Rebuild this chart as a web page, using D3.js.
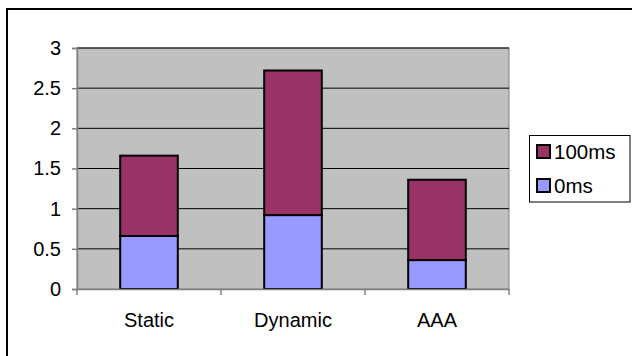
<!DOCTYPE html>
<html><head><meta charset="utf-8">
<script src="https://cdn.jsdelivr.net/npm/d3@7"></script>
<style>body{margin:0;background:#fff}svg{display:block}text{font-family:Arial,"Liberation Sans",sans-serif;fill:#000}</style>
</head><body>
<script>
const categories = ["Static", "Dynamic", "AAA"];
const series = ["0ms", "100ms"];
const values0ms = [0.66, 0.92, 0.36];
const values100ms = [1.00, 1.80, 1.00];
const yTicks = [0, 0.5, 1, 1.5, 2, 2.5, 3];
const colors = {"0ms": "#9999ff", "100ms": "#993366"};

const W = 632, H = 356;
const svg = d3.select("body").append("svg").attr("width", W).attr("height", H);
svg.append("rect").attr("x", 7).attr("y", 9).attr("width", 640).attr("height", 360)
  .attr("fill", "#fff").attr("stroke", "#000").attr("stroke-width", 2);

const L = 77, R = 509, T = 48, B = 289;
const x = d3.scaleBand().domain(categories).range([L, R]).paddingInner(0.6).paddingOuter(0.3);
const xc = d3.scaleBand().domain(categories).range([L, R]);
const y = d3.scaleLinear().domain([0, 3]).range([B, T]);

svg.append("rect").attr("x", L).attr("y", T).attr("width", R - L).attr("height", B - T)
  .attr("fill", "#c0c0c0").attr("stroke", "#808080").attr("stroke-width", 1);

// gridlines
svg.append("g").selectAll("line").data(yTicks.filter(d => d > 0)).join("line")
  .attr("x1", L).attr("x2", R).attr("y1", d => y(d)).attr("y2", d => y(d))
  .attr("stroke", "#000").attr("stroke-width", 1);

// stacked bars
const rows = categories.map((c, i) => ({cat: c, "0ms": values0ms[i], "100ms": values100ms[i]}));
const stack = d3.stack().keys(series)(rows);
svg.append("g").selectAll("g").data(stack).join("g").attr("fill", d => colors[d.key])
  .selectAll("rect").data(d => d).join("rect")
  .attr("x", d => x(d.data.cat)).attr("width", x.bandwidth())
  .attr("y", d => y(d[1])).attr("height", d => y(d[0]) - y(d[1]))
  .attr("stroke", "#000").attr("stroke-width", 2);

// axes
const yAxis = d3.axisLeft(y).tickValues(yTicks).tickSize(5).tickPadding(11).tickFormat(d3.format("~g"));
const gy = svg.append("g").attr("transform", `translate(${L},0)`).call(yAxis);
gy.attr("font-size", 20).attr("font-family", "Arial, 'Liberation Sans', sans-serif");
gy.select(".domain").attr("stroke", "#808080").attr("stroke-width", 1.5);
gy.selectAll(".tick line").attr("stroke", "#808080").attr("stroke-width", 1.5);
gy.selectAll("text").attr("fill", "#000");

const xAxis = d3.axisBottom(xc).tickSize(0).tickPadding(24);
const gx = svg.append("g").attr("transform", `translate(0,${B})`).call(xAxis);
gx.attr("font-size", 20).attr("font-family", "Arial, 'Liberation Sans', sans-serif");
gx.select(".domain").attr("stroke", "#808080").attr("stroke-width", 1.5);
gx.selectAll("text").attr("fill", "#000");
// category boundary ticks
gx.append("g").selectAll("line").data(categories.concat(["__end"])).join("line")
  .attr("x1", (d, i) => i < categories.length ? xc(d) : R)
  .attr("x2", (d, i) => i < categories.length ? xc(d) : R)
  .attr("y1", 0).attr("y2", 6).attr("stroke", "#808080").attr("stroke-width", 1.5);

// legend
const lg = svg.append("g");
lg.append("rect").attr("x", 529.5).attr("y", 135.5).attr("width", 100.5).attr("height", 66.5)
  .attr("fill", "#fff").attr("stroke", "#000").attr("stroke-width", 1);
const legendOrder = ["100ms", "0ms"];
legendOrder.forEach((k, i) => {
  const yy = 145 + i * 34;
  lg.append("rect").attr("x", 537).attr("y", yy).attr("width", 13).attr("height", 13)
    .attr("fill", colors[k]).attr("stroke", "#000").attr("stroke-width", 2);
  lg.append("text").attr("x", 554).attr("y", yy + 14).attr("font-size", 20.5).text(k);
});
</script>
</body></html>
